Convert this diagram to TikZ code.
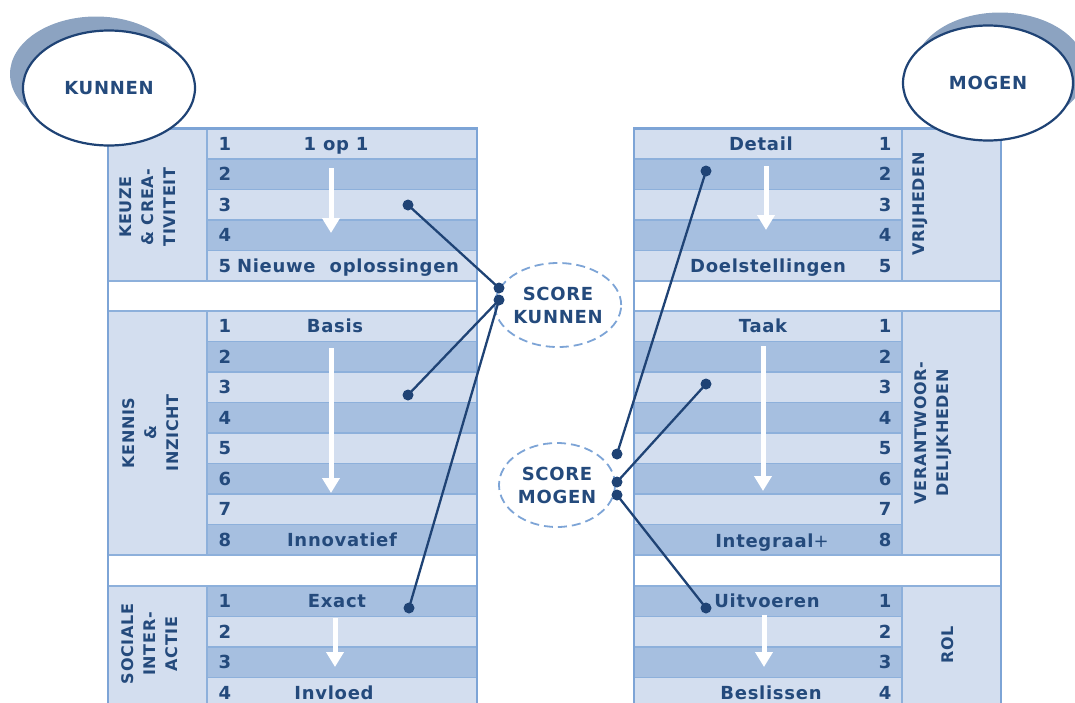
\documentclass[tikz,border=0pt]{standalone}
\usepackage{fontspec}
\usetikzlibrary{shapes.geometric,arrows.meta}
\newfontfamily\dvfont[LetterSpace=4]{DejaVu Sans}
\newfontfamily\dvplain{DejaVu Sans}
\definecolor{lightrow}{HTML}{D3DEEF}
\definecolor{darkrow}{HTML}{A6BFE0}
\definecolor{edgeblue}{HTML}{7DA4D6}
\definecolor{sepblue}{HTML}{8DB0DB}
\definecolor{navy}{HTML}{1F4375}
\definecolor{ink}{HTML}{244A7C}
\definecolor{shade}{HTML}{8CA3C1}
\tikzset{
  cell/.style={draw=sepblue, line width=1.2pt, minimum height=30.5pt, anchor=north west, inner sep=0pt, outer sep=0pt},
  ltL/.style={cell, fill=lightrow, minimum width=270pt},
  dkL/.style={cell, fill=darkrow, minimum width=270pt},
  ltR/.style={cell, fill=lightrow, minimum width=268pt},
  dkR/.style={cell, fill=darkrow, minimum width=268pt},
  gapcell/.style={cell, fill=white, minimum height=30pt},
  labcell/.style={draw=sepblue, line width=1.2pt, fill=lightrow, anchor=north west, inner sep=0pt, outer sep=0pt, minimum width=99pt},
  outerline/.style={draw=edgeblue, line width=2.5pt},
  txt/.style={font={\dvfont\bfseries\fontsize{18}{22}\selectfont}, text=ink, inner sep=0pt, text height=13pt, text depth=0pt},
  vlab/.style={font={\dvfont\bfseries\fontsize{16}{22}\selectfont}, text=ink, inner sep=0pt, align=center, rotate=90},
  warrow/.style={white, line width=5pt, -{Triangle[width=17pt,length=15pt]}},
  dot/.style={circle, fill=navy, minimum size=11pt, inner sep=0pt},
  conn/.style={navy, line width=2.3pt},
  scoreell/.style={ellipse, draw=edgeblue, line width=1.8pt, dash pattern=on 9pt off 5pt, minimum width=116pt, minimum height=84pt, inner sep=0pt, align=center, font={\dvfont\bfseries\fontsize{18}{23}\selectfont}, text=ink},
  bigell/.style={ellipse, draw=navy, line width=2.2pt, fill=white, minimum width=172pt, minimum height=115pt, inner sep=0pt, font={\dvfont\bfseries\fontsize{18}{22}\selectfont}, text=ink},
  shadowell/.style={ellipse, fill=shade, minimum width=172pt, minimum height=115pt, inner sep=0pt}
}
\begin{document}
\begin{tikzpicture}[x=1pt,y=-1pt]
\useasboundingbox (0,0) rectangle (1075,702);

% ---------- left panel ----------
\node[labcell, minimum height=152.5pt] (Llab1) at (108,128.5) {};
\node[labcell, minimum height=244pt] (Llab2) at (108,311) {};
\node[labcell, minimum height=122pt] (Llab3) at (108,586) {};
\foreach \i/\s in {1/ltL,2/dkL,3/ltL,4/dkL,5/ltL}
  \node[\s] (La\i) at (207,{128.5+30.5*(\i-1)}) {};
\foreach \i/\s in {1/ltL,2/dkL,3/ltL,4/dkL,5/ltL,6/dkL,7/ltL,8/dkL}
  \node[\s] (Lb\i) at (207,{311+30.5*(\i-1)}) {};
\foreach \i/\s in {1/dkL,2/ltL,3/dkL,4/ltL}
  \node[\s] (Lc\i) at (207,{586+30.5*(\i-1)}) {};
\node[gapcell, minimum width=369pt] (Lgap1) at (108,281) {};
\node[gapcell, minimum width=369pt] (Lgap2) at (108,555.5) {};
\draw[outerline] (108,720) -- (108,128.5) -- (477,128.5) -- (477,720);

% ---------- right panel ----------
\node[labcell, minimum height=152.5pt] (Rlab1) at (902,128.5) {};
\node[labcell, minimum height=244pt] (Rlab2) at (902,311) {};
\node[labcell, minimum height=122pt] (Rlab3) at (902,586) {};
\foreach \i/\s in {1/ltR,2/dkR,3/ltR,4/dkR,5/ltR}
  \node[\s] (Ra\i) at (634,{128.5+30.5*(\i-1)}) {};
\foreach \i/\s in {1/ltR,2/dkR,3/ltR,4/dkR,5/ltR,6/dkR,7/ltR,8/dkR}
  \node[\s] (Rb\i) at (634,{311+30.5*(\i-1)}) {};
\foreach \i/\s in {1/dkR,2/ltR,3/dkR,4/ltR}
  \node[\s] (Rc\i) at (634,{586+30.5*(\i-1)}) {};
\node[gapcell, minimum width=367pt] (Rgap1) at (634,281) {};
\node[gapcell, minimum width=367pt] (Rgap2) at (634,555.5) {};
\draw[outerline] (634,720) -- (634,128.5) -- (1001,128.5) -- (1001,720);

% ---------- white arrows ----------
\coordinate (aL1s) at (331,168); \coordinate (aL1e) at (331,233);
\coordinate (aL2s) at (331,348); \coordinate (aL2e) at (331,493);
\coordinate (aL3s) at (335,618); \coordinate (aL3e) at (335,667);
\coordinate (aR1s) at (766,166); \coordinate (aR1e) at (766,230);
\coordinate (aR2s) at (763,346); \coordinate (aR2e) at (763,491);
\coordinate (aR3s) at (764,615); \coordinate (aR3e) at (764,667);
\draw[warrow] (aL1s) -- (aL1e);
\draw[warrow] (aL2s) -- (aL2e);
\draw[warrow] (aL3s) -- (aL3e);
\draw[warrow] (aR1s) -- (aR1e);
\draw[warrow] (aR2s) -- (aR2e);
\draw[warrow] (aR3s) -- (aR3e);

% ---------- numbers ----------
\foreach \i in {1,...,5}
  \node[txt] (Lan\i) at (225,{128.5+30.5*(\i-0.5)}) {\i};
\foreach \i in {1,...,8}
  \node[txt] (Lbn\i) at (225,{311+30.5*(\i-0.5)}) {\i};
\foreach \i in {1,...,4}
  \node[txt] (Lcn\i) at (225,{586+30.5*(\i-0.5)}) {\i};
\foreach \i in {1,...,5}
  \node[txt] (Ran\i) at (885,{128.5+30.5*(\i-0.5)}) {\i};
\foreach \i in {1,...,8}
  \node[txt] (Rbn\i) at (885,{311+30.5*(\i-0.5)}) {\i};
\foreach \i in {1,...,4}
  \node[txt] (Rcn\i) at (885,{586+30.5*(\i-0.5)}) {\i};

% ---------- row texts ----------
\node[txt] (t1op1) at (336,143.75) {1 op 1};
\node[txt] (tnieuw) at (348,265.75) {Nieuwe\ \ oplossingen};
\node[txt] (tbasis) at (335,326.25) {Basis};
\node[txt] (tinnov) at (342,539.75) {Innovatief};
\node[txt] (texact) at (337,601.25) {Exact};
\node[txt] (tinvl) at (334,692.75) {Invloed};
\node[txt] (tdetail) at (761,143.75) {Detail};
\node[txt] (tdoel) at (768,265.75) {Doelstellingen};
\node[txt] (ttaak) at (763,326.25) {Taak};
\node[txt] (tinteg) at (772,541) {Integraal{\dvplain\mdseries+}};
\node[txt] (tuitv) at (767,601.25) {Uitvoeren};
\node[txt] (tbesl) at (771,692.75) {Beslissen};

% ---------- vertical labels ----------
\node[vlab] (vkeuze) at (148,207) {KEUZE\\\& CREA-\\TIVITEIT};
\node[vlab] (vkennis) at (151,433) {KENNIS\\\&\\INZICHT};
\node[vlab] (vsoc) at (150,644) {SOCIALE\\INTER-\\ACTIE};
\node[vlab] (vvrij) at (920,204) {VRIJHEDEN};
\node[vlab] (vverant) at (933,433) {VERANTWOOR-\\DELIJKHEDEN};
\node[vlab] (vrol) at (948,645) {ROL};

% ---------- score ellipses ----------
\node[scoreell] (scorek) at (558,305) {SCORE\\KUNNEN};
\node[scoreell] (scorem) at (557,485) {SCORE\\MOGEN};

% ---------- connectors ----------
\node[dot] (dL1) at (408,205) {};
\node[dot] (dL2) at (408,395) {};
\node[dot] (dL3) at (409,608) {};
\node[dot] (sK1) at (499,288) {};
\node[dot] (sK2) at (499,300) {};
\node[dot] (dR1) at (706,171) {};
\node[dot] (dR2) at (706,384) {};
\node[dot] (dR3) at (706,608) {};
\node[dot] (sM1) at (617,454) {};
\node[dot] (sM2) at (617,482) {};
\node[dot] (sM3) at (617,495) {};
\draw[conn] (dL1.center) -- (sK1.center);
\draw[conn] (dL2.center) -- (sK2.center);
\draw[conn] (dL3.center) -- (sK2.center);
\draw[conn] (dR1.center) -- (sM1.center);
\draw[conn] (dR2.center) -- (sM2.center);
\draw[conn] (dR3.center) -- (sM3.center);

% ---------- big ellipses ----------
\node[shadowell] (kshadow) at (96,74) {};
\node[bigell] (kunnen) at (109,88) {KUNNEN};
\node[shadowell] (mshadow) at (1000,70) {};
\node[bigell, minimum width=170pt] (mogen) at (988,83) {MOGEN};
\end{tikzpicture}
\end{document}
